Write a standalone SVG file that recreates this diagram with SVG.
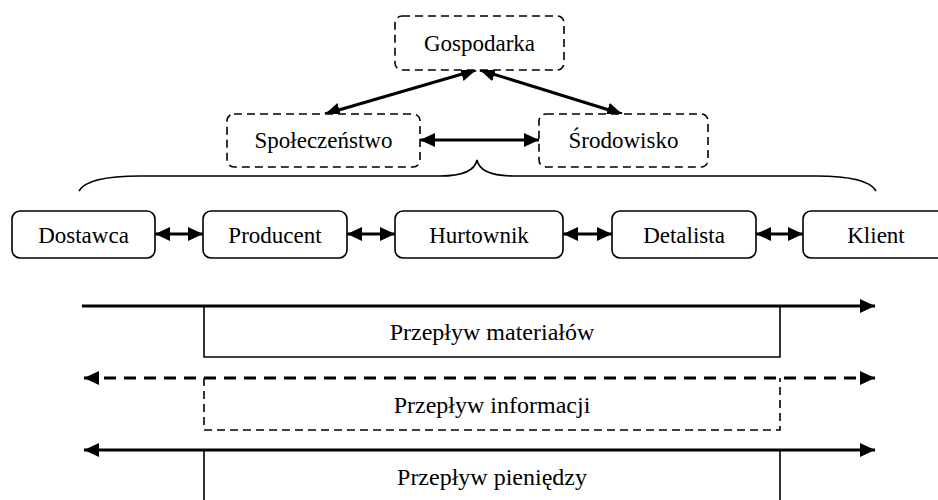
<svg xmlns="http://www.w3.org/2000/svg" width="938" height="500" viewBox="0 0 938 500">
<style>
  .t { font-family: "Liberation Serif", "Times New Roman", serif; font-size: 23px; fill: #000; text-anchor: middle; }
  .ft { font-family: "Liberation Serif", "Times New Roman", serif; font-size: 24px; fill: #000; text-anchor: middle; }
  .solid { fill: #fff; stroke: #000; stroke-width: 1.6; }
  .dashed { fill: #fff; stroke: #000; stroke-width: 1.6; stroke-dasharray: 8 5; }
  .conn { fill: none; stroke: #000; stroke-width: 3; }
  .thin { fill: none; stroke: #000; stroke-width: 1.6; }
</style>
<defs>
  <marker id="ah" markerUnits="userSpaceOnUse" markerWidth="16" markerHeight="16" viewBox="0 0 16 16" refX="15" refY="8" orient="auto-start-reverse">
    <path d="M0,1 L15,8 L0,15 Z" fill="#000"/>
  </marker>
  <marker id="ahs" markerUnits="userSpaceOnUse" markerWidth="16" markerHeight="16" viewBox="0 0 16 16" refX="15" refY="8" orient="auto-start-reverse">
    <path d="M0,1 L15,8 L0,15 Z" fill="#000"/>
  </marker>
</defs>

<g id="connectors">
  <line class="conn" x1="325" y1="114" x2="476" y2="70" marker-start="url(#ahs)" marker-end="url(#ahs)"/>
  <line class="conn" x1="480" y1="70" x2="622" y2="114" marker-start="url(#ahs)" marker-end="url(#ahs)"/>
  <line class="conn" x1="420" y1="140" x2="539" y2="140" marker-start="url(#ahs)" marker-end="url(#ahs)"/>
  <line class="conn" x1="155" y1="234" x2="203" y2="234" marker-start="url(#ahs)" marker-end="url(#ahs)"/>
  <line class="conn" x1="347" y1="234" x2="395" y2="234" marker-start="url(#ahs)" marker-end="url(#ahs)"/>
  <line class="conn" x1="563" y1="234" x2="612" y2="234" marker-start="url(#ahs)" marker-end="url(#ahs)"/>
  <line class="conn" x1="756" y1="234" x2="803" y2="234" marker-start="url(#ahs)" marker-end="url(#ahs)"/>
  <path class="thin" d="M79,191 C85,180 110,176 140,176 L440,176 C465,176 475,170 477,160 C479,170 489,176 514,176 L816,176 C846,176 870,180 876,191"/>
</g>

<g id="gospodarka">
  <rect class="dashed" x="395" y="16" width="169" height="54" rx="7"/>
  <text class="t" x="479.5" y="51">Gospodarka</text>
</g>
<g id="spoleczenstwo">
  <rect class="dashed" x="227" y="114" width="193" height="53" rx="7"/>
  <text class="t" x="323.5" y="148">Społeczeństwo</text>
</g>
<g id="srodowisko">
  <rect class="dashed" x="539" y="114" width="169" height="53" rx="7"/>
  <text class="t" x="623.5" y="148">Środowisko</text>
</g>

<g id="dostawca">
  <rect class="solid" x="12" y="211" width="143" height="47" rx="8"/>
  <text class="t" x="83.5" y="243">Dostawca</text>
</g>
<g id="producent">
  <rect class="solid" x="203" y="211" width="144" height="47" rx="8"/>
  <text class="t" x="275" y="243">Producent</text>
</g>
<g id="hurtownik">
  <rect class="solid" x="395" y="211" width="168" height="47" rx="8"/>
  <text class="t" x="479" y="243">Hurtownik</text>
</g>
<g id="detalista">
  <rect class="solid" x="612" y="211" width="144" height="47" rx="8"/>
  <text class="t" x="684" y="243">Detalista</text>
</g>
<g id="klient">
  <rect class="solid" x="803" y="211" width="146" height="47" rx="8"/>
  <text class="t" x="876" y="243">Klient</text>
</g>

<g id="przeplyw-materialow">
  <path class="thin" d="M204,306 L204,357 L780,357 L780,306"/>
  <line class="conn" x1="82" y1="306" x2="875" y2="306" marker-end="url(#ah)"/>
  <text class="ft" x="492" y="340">Przepływ materiałów</text>
</g>
<g id="przeplyw-informacji">
  <path class="thin" d="M204,378 L204,430 L780,430 L780,378" stroke-dasharray="8 5"/>
  <line class="conn" x1="84" y1="378" x2="875" y2="378" stroke-dasharray="12 8" marker-start="url(#ah)" marker-end="url(#ah)"/>
  <text class="ft" x="492" y="413">Przepływ informacji</text>
</g>
<g id="przeplyw-pieniedzy">
  <path class="thin" d="M204,450 L204,500 M780,450 L780,500"/>
  <line class="conn" x1="84" y1="450" x2="875" y2="450" marker-start="url(#ah)" marker-end="url(#ah)"/>
  <text class="ft" x="492" y="485">Przepływ pieniędzy</text>
</g>
</svg>
